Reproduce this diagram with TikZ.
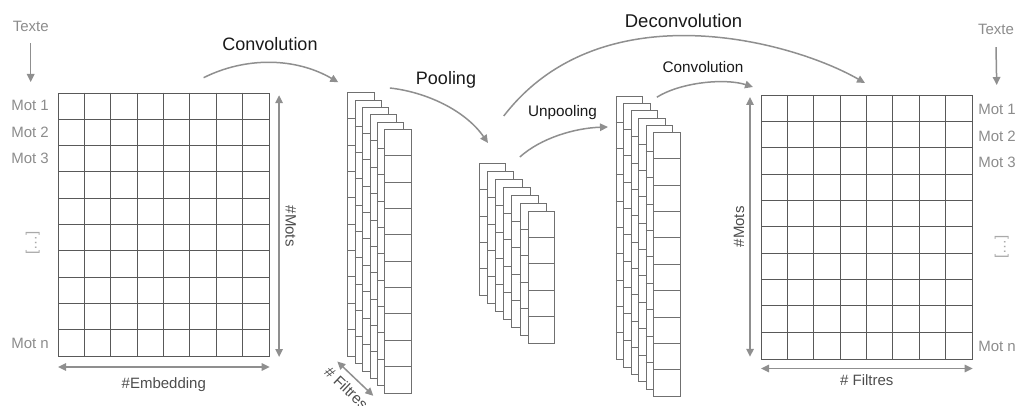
\documentclass[tikz,border=0pt]{standalone}
\usepackage{fontspec}
\setmainfont{Liberation Sans}
\usepackage{tikz}
\usetikzlibrary{arrows.meta,calc}
\definecolor{txtgray}{HTML}{8C8C8C}
\definecolor{arrgray}{HTML}{8F8F8F}
\definecolor{gridgray}{HTML}{595959}
\definecolor{sheetgray}{HTML}{707070}
\definecolor{dimgray}{HTML}{4D4D4D}

\begin{document}
\begin{tikzpicture}[x=1pt,y=-1pt,
    every node/.style={inner sep=0pt},
    big/.style={font=\fontsize{18}{20}\selectfont, text=black!90},
    small/.style={font=\fontsize{15.3}{17}\selectfont, text=black!90},
    word/.style={font=\fontsize{15}{17}\selectfont, text=txtgray},
    dimlbl/.style={font=\fontsize{15}{17}\selectfont, text=dimgray},
    flow/.style={draw=arrgray, line width=1.5pt, -{Triangle[length=8pt,width=7.5pt]}},
    dim/.style={draw=arrgray, line width=1.5pt, {Triangle[length=8pt,width=7.5pt]}-{Triangle[length=8pt,width=7.5pt]}},
    gridbox/.style={draw=gridgray, line width=0.8pt, minimum width=210.8pt, minimum height=263.5pt, anchor=north west},
    sheet/.style={draw=sheetgray, line width=0.8pt, fill=white, minimum width=26.35pt, anchor=north west}]

    \useasboundingbox (0,0) rectangle (1016,406);

    % input and output matrices
    \node[gridbox] (emb) at (58,92.7) {};
    \node[gridbox] (out) at (761,95) {};
    \foreach \g in {emb,out} {
      \foreach \i in {1,...,7}
        \draw[gridgray, line width=0.8pt] ($(\g.north west)+(\i*26.35,0)$) -- ($(\g.south west)+(\i*26.35,0)$);
      \foreach \j in {1,...,9}
        \draw[gridgray, line width=0.8pt] ($(\g.north west)+(0,\j*26.35)$) -- ($(\g.north east)+(0,\j*26.35)$);
    }

    % feature maps
    \foreach \k in {0,...,5} {
      \node[sheet, minimum height=263.5pt] (a\k) at ($(347.3,92.3)+(\k*7.4,\k*7.4)$) {};
      \foreach \j in {1,...,9}
        \draw[sheetgray, line width=0.8pt] ($(a\k.north west)+(0,\j*26.35)$) -- ($(a\k.north east)+(0,\j*26.35)$);
    }
    \foreach \k in {0,...,6} {
      \node[sheet, minimum height=131.75pt] (b\k) at ($(479,163.3)+(\k*8.1,\k*7.95)$) {};
      \foreach \j in {1,...,4}
        \draw[sheetgray, line width=0.8pt] ($(b\k.north west)+(0,\j*26.35)$) -- ($(b\k.north east)+(0,\j*26.35)$);
    }
    \foreach \k in {0,...,5} {
      \node[sheet, minimum height=263.5pt] (c\k) at ($(615.7,95.7)+(\k*7.5,\k*7.35)$) {};
      \foreach \j in {1,...,9}
        \draw[sheetgray, line width=0.8pt] ($(c\k.north west)+(0,\j*26.35)$) -- ($(c\k.north east)+(0,\j*26.35)$);
    }

    % words
    \node[word, anchor=base] (txtL) at (30.7,31.7) {Texte};
    \node[word, anchor=base] (txtR) at (996,35) {Texte};
    \coordinate (inL) at (30.7,82);
    \coordinate (inR) at (996.7,85);
    \draw[flow] ([yshift=-11pt]txtL.south) -- (inL);
    \draw[flow] ([yshift=-11.7pt]txtR.south) -- (inR);
    \foreach \r/\t in {1/Mot 1,2/Mot 2,3/Mot 3,10/Mot n} {
      \node[word, anchor=east] (wl\r) at ($(emb.north west)+(-9,\r*26.35-13.2)$) {\t};
      \node[word, anchor=west] (wr\r) at ($(out.north east)+(5.5,\r*26.35-11.8)$) {\t};
    }
    \node[word, text=txtgray!75, rotate=90] (dotsL) at (32.7,243) {[…]};
    \node[word, text=txtgray!75, rotate=90] (dotsR) at (1001.7,247) {[…]};

    % sizes
    \coordinate (m1) at ($(emb.north east)+(9.5,2.5)$);
    \coordinate (m2) at ($(emb.south east)+(9.5,0)$);
    \draw[dim] (m1) -- (m2);
    \node[dimlbl, rotate=-90] (motsL) at ($(m1)!0.5!(m2)+(11.5,0)$) {\#Mots};
    \coordinate (e1) at ($(emb.south west)+(0,10)$);
    \coordinate (e2) at ($(emb.south east)+(0,10)$);
    \draw[dim] (e1) -- (e2);
    \node[dimlbl, anchor=base] (embl) at ($(e1)!0.5!(e2)+(0,21.5)$) {\#Embedding};
    \coordinate (f1) at ($(a0.south west)+(-10,4.9)$);
    \coordinate (f2) at ($(a5.south west)+(-11,2.2)$);
    \draw[dim] (f1) -- (f2);
    \node[dimlbl, rotate=-43.6] (filtA) at (346.5,388) {\# Filtres};
    \coordinate (n1) at ($(out.north west)+(-11,2)$);
    \coordinate (n2) at ($(out.south west)+(-11,-2.5)$);
    \draw[dim] (n1) -- (n2);
    \node[dimlbl, rotate=90] (motsR) at ($(n1)!0.5!(n2)+(-11,0)$) {\#Mots};
    \coordinate (g1) at ($(out.south west)+(0,9.2)$);
    \coordinate (g2) at ($(out.south east)+(0,9.2)$);
    \draw[dim] (g1) -- (g2);
    \node[dimlbl, anchor=base] (filtB) at ($(g1)!0.5!(g2)+(0,17.3)$) {\# Filtres};

    % operations
    \coordinate (c1a) at ($(emb.north east)+(-66,-15)$);
    \coordinate (c1b) at ($(a0.north west)+(-9,-10)$);
    \draw[flow] (c1a) .. controls +(42,-21) and +(-43,-25) .. (c1b);
    \node[big, anchor=base] (convA) at (270,51) {Convolution};
    \coordinate (p1a) at ($(a0.north east)+(15.4,-4.3)$);
    \coordinate (p1b) at ($(b0.north west)+(9,-20.3)$);
    \draw[flow] (p1a) .. controls +(36,4) and +(-23,-33) .. (p1b);
    \node[big, anchor=base] (pool) at (446,85) {Pooling};
    \coordinate (u1a) at ($(b0.north east)+(13.7,-6.3)$);
    \coordinate (u1b) at ($(c0.north west)+(-7.7,31.3)$);
    \draw[flow] (u1a) .. controls +(21,-19) and +(-33,1) .. (u1b);
    \node[small, anchor=base] (unpool) at (562.5,117) {Unpooling};
    \coordinate (d1a) at ($(b0.north east)+(-2.4,-47.3)$);
    \coordinate (d1b) at ($(out.north west)+(104,-12)$);
    \draw[flow] (d1a) .. controls +(97,-126) and +(-75,-43) .. (d1b);
    \node[big, font=\fontsize{18.5}{20}\selectfont, anchor=base] (deconv) at (683.5,27.3) {Deconvolution};
    \coordinate (c2a) at ($(c0.north east)+(14,1.5)$);
    \coordinate (c2b) at ($(out.north west)+(-8,-8)$);
    \draw[flow] (c2a) .. controls +(24,-15) and +(-28,-9) .. (c2b);
    \node[small, anchor=base] (convB) at (703,72.7) {Convolution};
\end{tikzpicture}
\end{document}
